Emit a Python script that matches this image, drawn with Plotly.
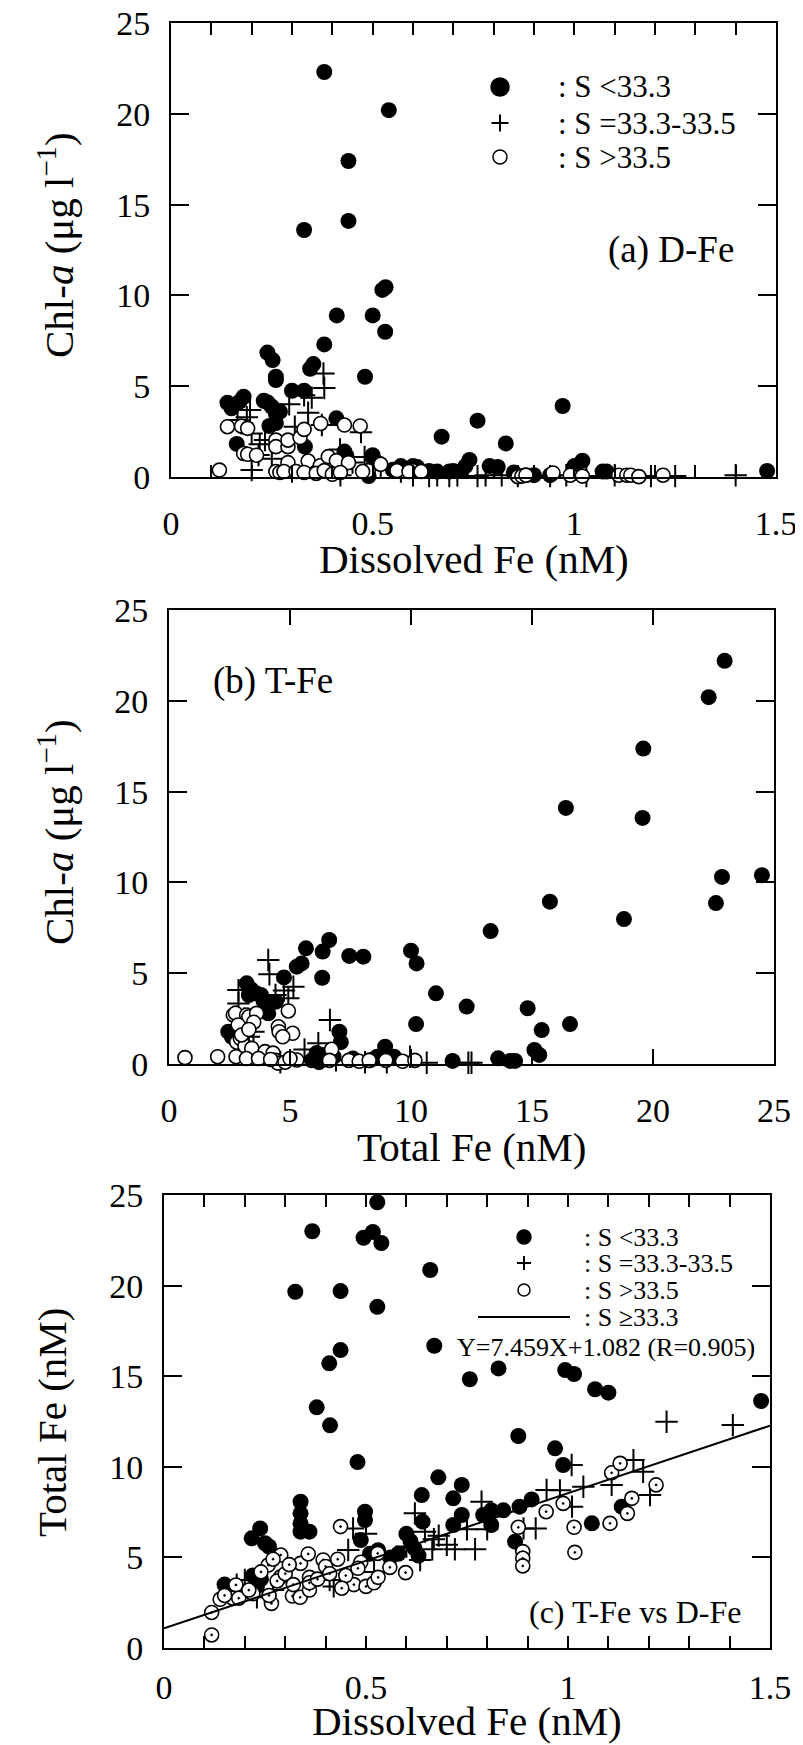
import plotly.graph_objects as go

# ---------------- data ----------------
# Panel (a): Dissolved Fe (nM) vs Chl-a (ug/l)
a_low_dfe = [0.38, 0.54, 0.44, 0.44, 0.33, 0.524, 0.532, 0.411, 0.50, 0.531, 0.38, 0.239, 0.252, 0.345, 0.353,
             0.26, 0.26, 0.481, 0.30, 0.33, 0.14, 0.15, 0.18, 0.17, 0.23, 0.25, 0.26, 0.244, 0.26, 0.41,
             0.671, 0.76, 0.83, 0.971, 0.163, 0.332, 0.435, 0.498, 0.74, 0.49, 0.61, 0.64, 0.70, 0.72, 0.73,
             0.79, 0.81, 0.85, 0.88, 0.90, 0.94, 1.00, 1.02, 1.07, 1.08, 1.478, 0.60, 0.55, 0.57, 0.43,
             0.27, 0.24, 0.50, 0.66, 0.69]
a_low_chl = [22.3, 20.2, 17.4, 14.1, 13.6, 10.3, 10.45, 8.9, 8.9, 8.0, 7.3, 6.85, 6.44, 5.96, 6.22,
             5.52, 5.34, 5.52, 4.75, 4.75, 4.09, 3.78, 4.42, 4.15, 4.2, 3.87, 3.5, 2.81, 2.97, 3.23,
             2.22, 3.1, 1.85, 3.91, 1.82, 1.67, 1.12, 1.12, 0.94, 0.05, 0.55, 0.33, 0.33, 0.33, 0.6,
             0.6, 0.55, 0.25, 0.1, 0.1, 0.1, 0.6, 0.9, 0.3, 0.3, 0.33, 0.6, 0.4, 0.6, 1.4,
             3.6, 4.1, 1.2, 0.3, 0.3]

a_mid_dfe = [0.378, 0.38, 0.293, 0.33, 0.349, 0.34, 0.196, 0.188, 0.165, 0.307, 0.374, 0.233, 0.217, 0.419,
             0.471, 0.48, 0.20, 0.22, 0.20, 0.25, 0.64, 0.69, 0.76, 0.78, 0.94, 1.19, 1.25, 1.40, 0.57,
             0.60, 0.66, 0.71, 0.82, 0.86, 0.98, 1.03, 1.10, 0.45, 0.52, 0.42, 0.30]
a_mid_chl = [5.7, 4.9, 4.0, 4.5, 4.37, 3.54, 3.69, 3.29, 3.14, 2.77, 2.86, 2.04, 1.21, 1.52,
             2.47, 1.1, 0.38, 1.8, 2.4, 1.0, 0.05, 0.05, 0.05, 0.1, 0.05, 0.05, 0.05, 0.1, 0.3,
             0.1, 0.1, 0.1, 0.1, 0.05, 0.1, 0.05, 0.1, 0.8, 0.5, 0.1, 0.3]

a_high_dfe = [0.12, 0.14, 0.175, 0.19, 0.18, 0.19, 0.212, 0.26, 0.26, 0.29, 0.29, 0.32, 0.33, 0.371, 0.43,
              0.469, 0.29, 0.34, 0.37, 0.39, 0.41, 0.44, 0.489, 0.518, 0.56, 0.60, 0.26, 0.27, 0.28, 0.31,
              0.33, 0.36, 0.38, 0.40, 0.42, 0.475, 0.86, 0.87, 0.88, 0.947, 0.99, 1.02, 1.11, 1.13, 1.14,
              1.16, 1.22, 0.52, 0.59, 0.62]
a_high_chl = [0.38, 2.77, 2.8, 2.68, 1.3, 1.25, 1.2, 2.03, 1.67, 1.67, 2.03, 2.17, 2.62, 2.95, 2.86,
              2.81, 0.79, 0.88, 0.62, 1.12, 0.9, 0.79, 0.35, 0.72, 0.35, 0.35, 0.3, 0.25, 0.3, 0.3,
              0.25, 0.2, 0.35, 0.15, 0.25, 0.3, 0.02, 0.05, 0.1, 0.22, 0.1, 0.05, 0.1, 0.1, 0.1,
              0.02, 0.1, 0.7, 0.3, 0.3]

# Panel (b): Total Fe (nM) vs Chl-a (ug/l)
b_low_tfe = [22.96, 22.3, 19.6, 19.57, 16.4, 24.5, 22.85, 22.6, 18.8, 15.74, 13.29, 5.66, 6.62, 6.35, 7.45,
             8.03, 10.0, 10.23, 5.28, 5.48, 6.33, 4.75, 3.21, 3.4, 3.6, 3.8, 3.3, 4.42, 4.1, 11.03,
             12.3, 14.82, 10.21, 16.57, 15.4, 7.04, 7.1, 2.45, 8.93, 15.1, 15.3, 11.72, 13.6, 14.1, 14.3,
             6.0, 6.2, 6.4, 6.1, 5.9, 6.8, 7.6, 8.3, 8.6, 9.3, 3.9, 4.0, 2.6]
b_low_chl = [22.2, 20.2, 17.37, 13.55, 14.1, 10.4, 10.3, 8.86, 7.98, 8.94, 7.32, 6.37, 6.83, 6.19, 5.95,
             5.91, 6.24, 5.54, 5.36, 5.54, 4.75, 4.77, 4.44, 4.1, 3.9, 3.8, 3.8, 3.43, 2.79, 3.89,
             3.16, 3.07, 2.2, 2.2, 1.87, 1.78, 1.2, 1.78, 0.95, 0.77, 0.5, 0.17, 0.31, 0.17, 0.17,
             0.3, 0.1, 0.5, 0.6, 0.2, 0.4, 0.3, 0.2, 0.4, 0.4, 3.5, 3.0, 1.5]

b_mid_tfe = [4.1, 4.15, 5.14, 4.75, 4.93, 2.87, 2.87, 6.65, 3.49, 6.17, 9.96, 12.37, 12.5, 10.65,
             3.3, 3.1, 4.4, 5.6, 6.9, 8.1, 9.0, 3.4, 4.6]
b_mid_chl = [5.73, 4.94, 4.26, 4.05, 3.62, 4.07, 3.33, 2.42, 1.78, 1.14, 0.4, 0.07, 0.07, 0.07,
             1.5, 2.5, 3.8, 0.8, 0.2, 0.1, 0.1, 0.5, 0.1]

b_high_tfe = [0.66, 2.01, 2.77, 2.66, 2.75, 3.21, 3.3, 3.62, 2.86, 4.93, 4.52, 4.55, 5.11, 2.8, 2.95,
              3.14, 3.42, 3.97, 4.3, 4.4, 4.5, 5.28, 6.72, 6.63, 7.43, 7.86, 8.27, 8.96, 9.65, 10.16,
              3.2, 3.7, 4.2, 4.8, 5.0, 3.0, 3.5, 3.3, 4.7]
b_high_chl = [0.35, 0.4, 0.4, 2.7, 2.8, 2.7, 2.6, 2.79, 2.15, 2.92, 2.05, 1.78, 1.69, 1.2, 1.4,
              0.99, 0.86, 0.68, 0.6, 0.2, 0.05, 0.22, 0.81, 0.2, 0.2, 0.15, 0.2, 0.2, 0.15, 0.2,
              0.3, 0.3, 0.25, 0.1, 0.3, 1.6, 2.3, 1.9, 1.5]

# Panel (c): Dissolved Fe (nM) vs Total Fe (nM)
c_low_dfe = [0.528, 0.367, 0.494, 0.517, 0.538, 0.659, 0.325, 0.437, 0.528, 0.669, 0.437, 0.409, 0.378,
             0.411, 0.479, 0.828, 0.757, 0.993, 1.015, 1.067, 1.10, 1.478, 0.877, 0.968, 0.988, 0.679,
             0.737, 0.638, 0.716, 0.737, 0.716, 0.64, 0.338, 0.338, 0.338, 0.338, 0.36, 0.4975, 0.4975,
             0.487, 0.238, 0.217, 0.25, 0.79, 0.81, 0.84, 0.88, 0.91, 0.81, 1.059, 0.869, 1.133, 0.60,
             0.61, 0.62, 0.63, 0.15, 0.22, 0.23, 0.51, 0.53, 0.56, 0.58, 0.26, 0.24]
c_low_tfe = [24.6, 23.0, 22.64, 22.96, 22.35, 20.86, 19.66, 19.7, 18.83, 16.68, 16.44, 15.71, 13.28,
             12.29, 10.26, 15.43, 14.83, 15.34, 15.12, 14.28, 14.09, 13.63, 11.7, 11.02, 10.1, 9.42,
             9.0, 8.44, 8.26, 7.34, 6.79, 6.97, 8.07, 7.43, 6.88, 6.42, 6.42, 7.52, 7.06,
             5.96, 6.6, 6.05, 5.78, 7.34, 7.6, 7.6, 7.8, 8.2, 6.79, 6.88, 5.87, 7.8, 6.3,
             5.9, 5.5, 5.1, 3.5, 4.0, 3.4, 5.2, 5.4, 5.0, 5.2, 5.6, 3.8]

c_mid_dfe = [0.621, 0.646, 0.668, 0.664, 0.786, 0.72, 0.77, 0.75, 0.80, 0.89, 0.92, 0.947, 0.98, 1.01,
             1.038, 1.009, 1.108, 1.162, 1.186, 1.203, 1.244, 1.408, 0.634, 0.50, 0.456, 0.20, 0.23,
             0.41, 0.42, 0.468, 0.70, 0.68, 0.60, 0.18, 0.27, 0.52]
c_mid_tfe = [7.43, 6.42, 6.0, 5.45, 8.07, 5.45, 5.45, 6.55, 6.55, 6.6, 6.6, 8.72, 8.7, 7.8,
             8.9, 10.1, 9.0, 10.37, 9.73, 8.44, 12.49, 12.3, 4.86, 6.3, 5.41, 3.75, 2.8,
             3.75, 3.4, 6.6, 5.7, 6.2, 5.6, 3.5, 3.2, 4.2]

c_high_dfe = [0.118, 0.118, 0.139, 0.178, 0.17, 0.185, 0.258, 0.289, 0.289, 0.266, 0.338, 0.318, 0.337,
              0.357, 0.36, 0.36, 0.36, 0.394, 0.40, 0.437, 0.43, 0.487, 0.47, 0.50, 0.52, 0.53, 0.529,
              0.559, 0.598, 0.877, 0.888, 0.888, 0.888, 0.946, 0.988, 1.015, 1.017, 1.108, 1.129, 1.104,
              1.147, 1.158, 1.218, 0.22, 0.24, 0.28, 0.30, 0.32, 0.38, 0.41, 0.45, 0.44, 0.48, 0.31,
              0.27, 0.21, 0.15, 0.26]
c_high_tfe = [0.72, 1.96, 2.69, 3.48, 2.75, 2.75, 4.58, 5.13, 3.93, 2.46, 4.67, 2.87, 2.8,
              5.19, 3.9, 3.2, 3.6, 4.86, 4.5, 6.7, 4.9, 4.73, 3.5, 3.4, 3.6, 3.9, 5.22,
              4.45, 4.16, 6.66, 5.32, 4.95, 4.53, 7.52, 7.98, 6.66, 5.28, 9.67, 10.19, 6.88,
              7.43, 8.26, 9.0, 3.0, 4.2, 3.7, 4.1, 3.5, 3.8, 4.1, 4.0, 3.3, 4.4, 4.6,
              4.9, 3.2, 2.9, 2.9]

# Regression (S >= 33.3): Y = slope*X + intercept
reg_slope = 7.459
reg_intercept = 1.082
reg_r = 0.905
reg_x = [0.0, 1.5]

# Ticks
dfe_major_step = 0.5
dfe_minor_step = 0.1
fe_tick_step = 5
chl_tick_step = 5

axis_titles = {
    "a": ("Dissolved Fe (nM)", "Chl-<i>a</i> (\u03bcg l<sup>\u22121</sup>)"),
    "b": ("Total Fe (nM)", "Chl-<i>a</i> (\u03bcg l<sup>\u22121</sup>)"),
    "c": ("Dissolved Fe (nM)", "Total Fe (nM)"),
}
legend_labels = [": S <33.3", ": S =33.3-33.5", ": S >33.5", ": S \u226533.3"]

# ---------------- figure ----------------
FONT = "Liberation Serif, Times New Roman, serif"
W, H = 803, 1745
OFF = 8  # default page (body) margin: page px = figure px + OFF

fig = go.Figure()


def add_points(x, y, kind, xa, ya, dot=False):
    if kind == "low":
        m = dict(symbol="circle", size=16, color="black", line=dict(width=0))
    elif kind == "mid":
        m = dict(symbol="cross-thin", size=16, color="black", line=dict(width=2, color="black"))
    else:
        m = dict(symbol="circle-dot" if dot else "circle", size=14, color="white",
                 line=dict(width=1.6, color="black"))
    fig.add_trace(go.Scatter(x=x, y=y, mode="markers", marker=m, xaxis=xa, yaxis=ya,
                             showlegend=False, cliponaxis=False, hoverinfo="x+y"))


for (xa, ya, sets, dot) in [
    ("x", "y", [(a_low_dfe, a_low_chl, "low"), (a_mid_dfe, a_mid_chl, "mid"), (a_high_dfe, a_high_chl, "high")], False),
    ("x2", "y2", [(b_low_tfe, b_low_chl, "low"), (b_mid_tfe, b_mid_chl, "mid"), (b_high_tfe, b_high_chl, "high")], False),
    ("x3", "y3", [(c_low_dfe, c_low_tfe, "low"), (c_mid_dfe, c_mid_tfe, "mid"), (c_high_dfe, c_high_tfe, "high")], True),
]:
    for xs, ys, k in sets:
        add_points(xs, ys, k, xa, ya, dot)

fig.add_trace(go.Scatter(x=reg_x, y=[reg_slope * v + reg_intercept for v in reg_x], mode="lines",
                         line=dict(color="black", width=2), xaxis="x3", yaxis="y3",
                         showlegend=False, hoverinfo="skip"))

# panel frames in page pixels
panels = {
    "a": dict(x0=171, x1=776, y0=23, y1=477),
    "b": dict(x0=169, x1=774, y0=610, y1=1064),
    "c": dict(x0=164, x1=770, y0=1195, y1=1648),
}


def px_x(px):
    return (px - OFF) / W


def px_y(py):
    return 1 - (py - OFF) / H


def dom(p):
    return [px_x(p["x0"]), px_x(p["x1"])], [px_y(p["y1"]), px_y(p["y0"])]


tickfont = dict(family=FONT, size=34, color="black")
common = dict(showline=True, linewidth=2, linecolor="black", mirror="ticks", ticks="inside",
              tickcolor="black", tickwidth=2, showgrid=False, zeroline=False, tickfont=tickfont,
              fixedrange=True, automargin=False, tickmode="linear", tick0=0,
              ticklabeloverflow="allow", layer="above traces")

layout_axes = {}
for key, name, xstep, xrange, xlen, minor, xstand in [
    ("a", "", dfe_major_step, [0, 1.5], 12, True, 15),
    ("b", "2", fe_tick_step, [0, 25], 15, False, 15),
    ("c", "3", dfe_major_step, [0, 1.5], 12, True, 8),
]:
    xd, yd = dom(panels[key])
    xa = dict(common, domain=xd, range=xrange, anchor="y" + name, dtick=xstep, ticklen=xlen,
              ticklabelstandoff=xstand)
    if minor:
        xa["minor"] = dict(tick0=0, dtick=dfe_minor_step, ticks="inside", ticklen=xlen,
                           tickwidth=2, tickcolor="black", showgrid=False)
    layout_axes["xaxis" + name] = xa
    layout_axes["yaxis" + name] = dict(common, domain=yd, range=[0, 25], anchor="x" + name,
                                       dtick=chl_tick_step, ticklen=18, ticklabelstandoff=12)

fig.update_layout(width=W, height=H, margin=dict(l=0, r=0, t=0, b=0, autoexpand=False),
                  paper_bgcolor="white", plot_bgcolor="white", showlegend=False,
                  font=dict(family=FONT, color="black"), **layout_axes)

shapes = []
annotations = []


def circ(xr, yr, xa, ya, d, filled, lw=1.5):
    shapes.append(dict(type="circle", xref=xr, yref=yr, xsizemode="pixel", ysizemode="pixel",
                       xanchor=xa, yanchor=ya, x0=-d / 2, x1=d / 2, y0=-d / 2, y1=d / 2,
                       fillcolor="black" if filled else "white", line=dict(color="black", width=lw)))


def plus(xr, yr, xa, ya, d):
    shapes.append(dict(type="line", xref=xr, yref=yr, xsizemode="pixel", xanchor=xa,
                       x0=-d / 2, x1=d / 2, y0=ya, y1=ya, line=dict(color="black", width=2)))
    shapes.append(dict(type="line", xref=xr, yref=yr, ysizemode="pixel", yanchor=ya,
                       y0=-d / 2, y1=d / 2, x0=xa, x1=xa, line=dict(color="black", width=2)))


def text(xr, yr, x, y, s, size, xanchor="left", angle=0):
    annotations.append(dict(xref=xr, yref=yr, x=x, y=y, text=s, showarrow=False, xanchor=xanchor,
                            yanchor="middle", textangle=angle,
                            font=dict(family=FONT, size=size, color="black")))


def ax_(p, px):
    return (px - p["x0"]) / (p["x1"] - p["x0"])


def ay_(p, py):
    return (p["y1"] - py) / (p["y1"] - p["y0"])


# axis titles (page-pixel centres)
title_pos = {
    "a": dict(xt_y=559, yt_x=56, yt_y=245),
    "b": dict(xt_y=1147, yt_x=56, yt_y=832),
    "c": dict(xt_y=1721, yt_x=52, yt_y=1423),
}
for key in ["a", "b", "c"]:
    p = panels[key]
    tp = title_pos[key]
    xt, yt = axis_titles[key]
    text("paper", "paper", px_x((p["x0"] + p["x1"]) / 2), px_y(tp["xt_y"]), xt, 41, "center")
    text("paper", "paper", px_x(tp["yt_x"]), px_y(tp["yt_y"]), yt, 41, "center", -90)

# legend panel (a)
pa = panels["a"]
mx, tx = ax_(pa, 500), ax_(pa, 556)
rows = [ay_(pa, 87), ay_(pa, 123), ay_(pa, 157)]
circ("x domain", "y domain", mx, rows[0], 18, True)
plus("x domain", "y domain", mx, rows[1], 17)
circ("x domain", "y domain", mx, rows[2], 14, False)
for r, s in zip(rows, legend_labels[:3]):
    text("x domain", "y domain", tx, r, s, 31)
text("x domain", "y domain", ax_(pa, 736), ay_(pa, 250), "(a) D-Fe", 37, "right")

# panel (b) label
pb = panels["b"]
text("x2 domain", "y2 domain", ax_(pb, 211), ay_(pb, 681), "(b) T-Fe", 37, "left")

# legend panel (c)
pc = panels["c"]
mx, tx = ax_(pc, 524), ax_(pc, 582)
rows = [ay_(pc, 1237), ay_(pc, 1263), ay_(pc, 1290), ay_(pc, 1317)]
circ("x3 domain", "y3 domain", mx, rows[0], 14, True)
plus("x3 domain", "y3 domain", mx, rows[1], 14)
circ("x3 domain", "y3 domain", mx, rows[2], 12, False)
shapes.append(dict(type="line", xref="x3 domain", yref="y3 domain", x0=ax_(pc, 478), x1=ax_(pc, 570),
                   y0=rows[3], y1=rows[3], line=dict(color="black", width=2)))
for r, s in zip(rows, legend_labels):
    text("x3 domain", "y3 domain", tx, r, s, 26)
text("x3 domain", "y3 domain", ax_(pc, 455), ay_(pc, 1347),
     f"Y={reg_slope:.3f}X+{reg_intercept:.3f} (R={reg_r:.3f})", 26)
text("x3 domain", "y3 domain", ax_(pc, 743), ay_(pc, 1612), "(c) T-Fe vs D-Fe", 32, "right")

fig.update_layout(shapes=shapes, annotations=annotations)
fig.write_html("out.html")
